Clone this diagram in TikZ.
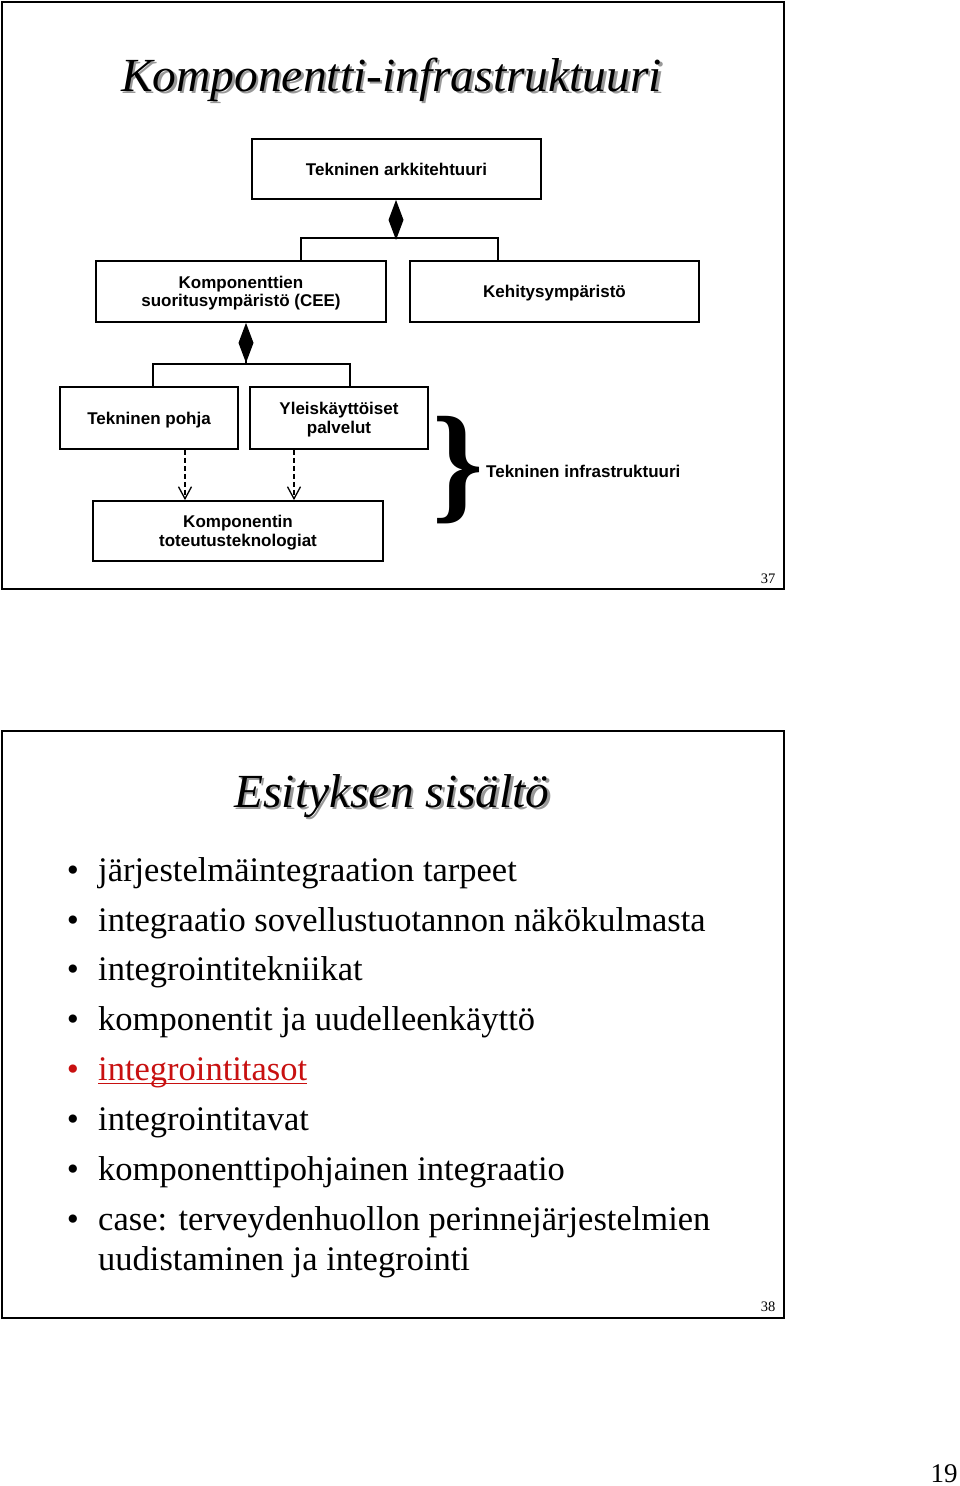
\documentclass[tikz,border=0pt]{standalone}
\usepackage{fontspec}
\setmainfont{Liberation Serif}
\newfontfamily\arialfont{Liberation Sans}
\usetikzlibrary{arrows.meta}
\definecolor{linkred}{RGB}{200,16,16}
\begin{document}
\begin{tikzpicture}[x=1pt,y=-1pt,
  frame/.style={draw, line width=2pt},
  box/.style={draw, line width=1.8pt, inner sep=0pt, align=center,
    text height=12.3pt, text depth=0pt,
    font=\arialfont\bfseries\fontsize{17}{18.5}\selectfont},
  twoline/.style={text height=30.8pt, text depth=0pt},
  lbl/.style={inner sep=0pt, font=\arialfont\bfseries\fontsize{17}{18.5}\selectfont},
  conn/.style={line width=1.6pt},
  dia/.style={line width=1.6pt, -{Diamond[length=40pt,width=15pt]}},
  dep/.style={line width=1.3pt, dash pattern=on 5pt off 3pt,
    -{Straight Barb[length=12pt,width=13pt,line width=1.3pt]}},
  ttl/.style={inner sep=0pt, anchor=base, font=\itshape\fontsize{47.5}{50}\selectfont},
  shd/.style={ttl, text=black!40},
  bul/.style={inner sep=0pt, anchor=base, font=\fontsize{34.5}{40}\selectfont},
  itm/.style={inner sep=0pt, anchor=base west, font=\fontsize{34.5}{40}\selectfont},
  pnum/.style={inner sep=0pt, anchor=base, font=\fontsize{14.5}{16}\selectfont}
]
\useasboundingbox (0,0) rectangle (960,1486);
\fill[white] (0,0) rectangle (960,1486);

% ---------- slide 37 ----------
\draw[frame] (2,2) rectangle (784,589);
\node[shd] (t1s) at (394,93.5) {Komponentti-infrastruktuuri};
\node[ttl] (t1) at (391.5,91) {Komponentti-infrastruktuuri};

\node[box, minimum width=289pt, minimum height=60pt] (arch) at (396.5,169) {Tekninen arkkitehtuuri};
\node[box, twoline, minimum width=290pt, minimum height=61pt] (cee) at (241,291.5) {Komponenttien\\suoritusympäristö (CEE)};
\node[box, minimum width=289pt, minimum height=61pt] (keh) at (554.5,291.5) {Kehitysympäristö};
\node[box, minimum width=178pt, minimum height=62pt] (tp) at (149,418) {Tekninen pohja};
\node[box, twoline, minimum width=178pt, minimum height=62pt] (yp) at (339,418) {Yleiskäyttöiset\\palvelut};
\node[box, twoline, minimum width=290pt, minimum height=60pt] (kt) at (238,531) {Komponentin\\toteutusteknologiat};

\coordinate (j1) at (396,238);
\coordinate (c1) at (301,238);
\coordinate (c2) at (498,238);
\coordinate (j2) at (246,364);
\coordinate (d1) at (153,364);
\coordinate (d2) at (350,364);
\coordinate (e1) at (185,475);
\coordinate (e2) at (294,475);

\draw[dia] (j1) -- (arch.south -| j1);
\draw[conn] (cee.north -| c1) -- (c1) -- (c2) -- (keh.north -| c2);
\draw[dia] (j2) -- (cee.south -| j2);
\draw[conn] (tp.north -| d1) -- (d1) -- (d2) -- (yp.north -| d2);
\draw[dep] (tp.south -| e1) -- (kt.north -| e1);
\draw[dep] (yp.south -| e2) -- (kt.north -| e2);

\node[inner sep=0pt, font=\bfseries\fontsize{130}{130}\selectfont] (br) at (458,470) {\}};
\node[lbl, anchor=west] (ti) at (486,471) {Tekninen infrastruktuuri};
\node[pnum] (p37) at (768,583) {37};

% ---------- slide 38 ----------
\draw[frame] (2,731) rectangle (784,1318);
\node[shd] (t2s) at (394.5,809.5) {Esityksen sisältö};
\node[ttl] (t2) at (392,807) {Esityksen sisältö};

\node[bul] (b1) at (73,881) {•};
\node[itm] (l1) at (98,881) {järjestelmäintegraation tarpeet};
\node[bul] (b2) at (73,931) {•};
\node[itm] (l2) at (98,931) {integraatio sovellustuotannon näkökulmasta};
\node[bul] (b3) at (73,980) {•};
\node[itm] (l3) at (98,980) {integrointitekniikat};
\node[bul] (b4) at (73,1030) {•};
\node[itm] (l4) at (98,1030) {komponentit ja uudelleenkäyttö};
\node[bul, text=linkred] (b5) at (73,1080) {•};
\node[itm, text=linkred] (l5) at (98,1080) {integrointitasot};
\draw[linkred, line width=1.6pt] ([yshift=-3.5pt]l5.base west) -- ([yshift=-3.5pt]l5.base east);
\node[bul] (b6) at (73,1130) {•};
\node[itm] (l6) at (98,1130) {integrointitavat};
\node[bul] (b7) at (73,1180) {•};
\node[itm] (l7) at (98,1180) {komponenttipohjainen integraatio};
\node[bul] (b8) at (73,1230) {•};
\node[itm] (l8) at (98,1230) {case: terveydenhuollon perinnejärjestelmien};
\node[itm] (l9) at (98,1270) {uudistaminen ja integrointi};
\node[pnum] (p38) at (768,1311) {38};

\node[inner sep=0pt, anchor=base, font=\fontsize{27}{30}\selectfont] (p19) at (944,1482) {19};
\end{tikzpicture}
\end{document}
